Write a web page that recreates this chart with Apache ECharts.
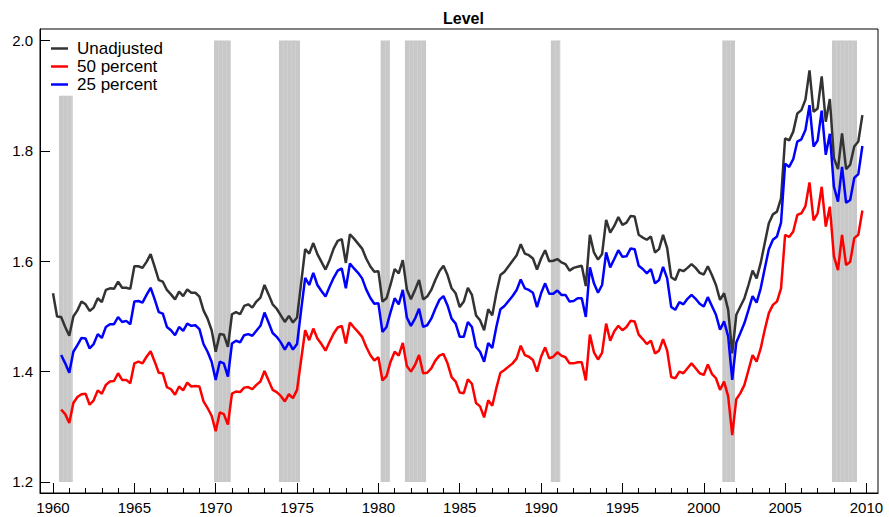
<!DOCTYPE html>
<html>
<head>
<meta charset="utf-8">
<title>Level</title>
<script src="https://cdn.jsdelivr.net/npm/echarts@6/dist/echarts.min.js"></script>
<style>
    html, body { margin: 0; padding: 0; background: #fff; }
    #chart { width: 889px; height: 517px; }
</style>
</head>
<body>
<div id="chart"></div>
<script>
// quarterly series, 1960Q1 - 2009Q4
var unadjusted = [
    1.542,1.500,1.499,1.481,1.465,1.500,1.511,1.527,1.522,1.510,
    1.516,1.533,1.526,1.548,1.551,1.550,1.563,1.552,1.552,1.550,
    1.591,1.591,1.588,1.599,1.613,1.590,1.566,1.563,1.548,1.540,
    1.531,1.545,1.537,1.549,1.543,1.543,1.536,1.511,1.496,1.475,
    1.436,1.468,1.467,1.445,1.504,1.508,1.504,1.519,1.522,1.516,
    1.527,1.534,1.557,1.540,1.522,1.514,1.502,1.490,1.501,1.489,
    1.498,1.560,1.622,1.614,1.633,1.613,1.599,1.585,1.602,1.623,
    1.637,1.640,1.597,1.649,1.641,1.632,1.623,1.605,1.591,1.581,
    1.582,1.527,1.533,1.558,1.586,1.578,1.602,1.549,1.531,1.548,
    1.566,1.531,1.536,1.548,1.566,1.582,1.592,1.575,1.551,1.542,
    1.517,1.527,1.552,1.539,1.502,1.493,1.475,1.513,1.502,1.542,
    1.575,1.581,1.591,1.601,1.611,1.631,1.614,1.611,1.605,1.585,
    1.605,1.620,1.600,1.601,1.604,1.598,1.595,1.583,1.588,1.590,
    1.592,1.555,1.648,1.616,1.603,1.613,1.675,1.652,1.664,1.680,
    1.666,1.670,1.682,1.681,1.648,1.643,1.639,1.645,1.616,1.622,
    1.648,1.624,1.571,1.566,1.585,1.582,1.588,1.595,1.588,1.579,
    1.576,1.591,1.575,1.557,1.530,1.542,1.512,1.433,1.503,1.518,
    1.533,1.557,1.583,1.569,1.597,1.633,1.669,1.685,1.690,1.714,
    1.823,1.819,1.835,1.868,1.874,1.893,1.946,1.871,1.877,1.935,
    1.853,1.894,1.787,1.767,1.832,1.767,1.775,1.808,1.817,1.865
];
var pct50 = [
    null,null,1.331,1.323,1.307,1.343,1.354,1.359,1.360,1.340,
    1.348,1.366,1.360,1.376,1.382,1.383,1.397,1.385,1.385,1.379,
    1.415,1.418,1.415,1.427,1.437,1.418,1.398,1.397,1.372,1.368,
    1.358,1.373,1.366,1.380,1.373,1.374,1.373,1.346,1.334,1.320,
    1.292,1.326,1.323,1.304,1.360,1.364,1.363,1.371,1.372,1.368,
    1.376,1.382,1.401,1.384,1.367,1.363,1.356,1.346,1.359,1.352,
    1.367,1.421,1.475,1.457,1.478,1.460,1.450,1.438,1.454,1.469,
    1.480,1.483,1.451,1.489,1.480,1.472,1.463,1.445,1.430,1.420,
    1.426,1.384,1.392,1.418,1.436,1.429,1.452,1.410,1.400,1.412,
    1.430,1.397,1.398,1.406,1.420,1.429,1.432,1.415,1.390,1.382,
    1.362,1.361,1.386,1.378,1.343,1.337,1.317,1.348,1.338,1.370,
    1.398,1.403,1.409,1.415,1.424,1.447,1.430,1.427,1.421,1.400,
    1.427,1.444,1.424,1.427,1.435,1.429,1.426,1.415,1.415,1.417,
    1.417,1.384,1.467,1.435,1.422,1.434,1.487,1.456,1.473,1.483,
    1.475,1.481,1.492,1.491,1.467,1.459,1.450,1.456,1.433,1.438,
    1.459,1.438,1.390,1.388,1.400,1.397,1.406,1.415,1.406,1.397,
    1.394,1.413,1.396,1.388,1.367,1.382,1.355,1.285,1.350,1.361,
    1.376,1.403,1.430,1.418,1.442,1.476,1.506,1.521,1.527,1.551,
    1.648,1.644,1.654,1.684,1.687,1.700,1.743,1.674,1.687,1.735,
    1.663,1.699,1.609,1.584,1.648,1.593,1.599,1.642,1.648,1.692
];
var pct25 = [
    null,null,1.430,1.415,1.398,1.436,1.448,1.461,1.460,1.442,
    1.450,1.468,1.461,1.481,1.486,1.486,1.499,1.490,1.492,1.486,
    1.527,1.528,1.525,1.539,1.552,1.531,1.508,1.505,1.481,1.475,
    1.466,1.481,1.474,1.487,1.483,1.484,1.477,1.450,1.436,1.418,
    1.385,1.418,1.415,1.391,1.451,1.456,1.453,1.466,1.468,1.465,
    1.474,1.483,1.507,1.489,1.470,1.463,1.453,1.440,1.453,1.440,
    1.450,1.511,1.570,1.557,1.579,1.557,1.546,1.536,1.554,1.570,
    1.583,1.587,1.551,1.596,1.587,1.579,1.569,1.549,1.534,1.523,
    1.524,1.472,1.481,1.508,1.533,1.522,1.548,1.498,1.483,1.496,
    1.514,1.481,1.484,1.496,1.514,1.530,1.537,1.520,1.496,1.487,
    1.463,1.463,1.490,1.481,1.445,1.436,1.418,1.452,1.443,1.481,
    1.513,1.519,1.528,1.537,1.548,1.567,1.551,1.548,1.543,1.517,
    1.542,1.560,1.541,1.541,1.547,1.539,1.539,1.527,1.528,1.533,
    1.533,1.499,1.589,1.560,1.543,1.557,1.616,1.589,1.604,1.620,
    1.608,1.609,1.623,1.622,1.592,1.586,1.578,1.586,1.560,1.566,
    1.590,1.569,1.517,1.512,1.526,1.522,1.532,1.539,1.532,1.523,
    1.518,1.535,1.519,1.503,1.476,1.491,1.464,1.385,1.453,1.470,
    1.488,1.512,1.537,1.525,1.551,1.587,1.622,1.639,1.645,1.670,
    1.777,1.771,1.785,1.817,1.821,1.838,1.883,1.808,1.819,1.873,
    1.793,1.831,1.735,1.708,1.771,1.706,1.711,1.751,1.758,1.809
];

// recession bands (start, end in fractional years; top of band)
var recStart = [1960.37, 1969.90, 1973.89, 1980.14, 1981.63, 1990.60, 2001.14, 2007.88];
var recEnd   = [1961.21, 1970.92, 1975.18, 1980.71, 1982.93, 1991.18, 2001.92, 2009.42];
var recTop   = [1.9, 2.0, 2.0, 2.0, 2.0, 2.0, 2.0, 2.0];

var yTicks = [1.2, 1.4, 1.6, 1.8, 2.0];
var xMajor = [1960, 1965, 1970, 1975, 1980, 1985, 1990, 1995, 2000, 2005, 2010];

// quarter dates: 1960.00, 1960.25, ...
var quarters = [];
for (var i = 0; i < unadjusted.length; i++) {
    quarters.push(1960 + i / 4);
}
var xMinor = [];
for (var yr = 1960; yr <= 2010; yr++) {
    if (yr % 5 != 0) xMinor.push(yr);
}

function pairs(vals) {
    var out = [];
    for (var i = 0; i < vals.length; i++) {
        out.push([quarters[i], vals[i]]);
    }
    return out;
}

var recData = [];
for (var r = 0; r < recStart.length; r++) {
    recData.push([recStart[r], recEnd[r], recTop[r]]);
}

var font = 'Liberation Sans, Arial, sans-serif';
var xMin = 1959.2, xMax = 2010.71;

var chart = echarts.init(document.getElementById('chart'), null, {renderer: 'svg'});
chart.setOption({
    animation: false,
    backgroundColor: '#fff',
    title: {
        text: 'Level',
        left: 438,
        top: 5,
        textStyle: { fontFamily: font, fontSize: 16, fontWeight: 'bold', color: '#000' }
    },
    legend: {
        data: ['Unadjusted', '50 percent', '25 percent'],
        orient: 'vertical',
        left: 51,
        top: 40,
        padding: 0,
        itemGap: 1,
        icon: 'rect',
        itemWidth: 17,
        itemHeight: 2.5,
        textStyle: { fontFamily: font, fontSize: 17, color: '#000', padding: [0, 0, 0, 4] }
    },
    grid: {
        left: 40, right: 11, top: 29, bottom: 24,
        show: true, borderColor: '#000', borderWidth: 1,
        containLabel: false
    },
    xAxis: [{
        type: 'value', min: xMin, max: xMax,
        splitLine: { show: false },
        axisLine: { lineStyle: { color: '#000', width: 1 } },
        axisTick: { customValues: xMajor, inside: true, length: 10, lineStyle: { color: '#000' } },
        axisLabel: {
            customValues: xMajor, margin: 7, fontFamily: font, fontSize: 15, color: '#000',
            formatter: function (v) { return String(Math.round(v)); }
        }
    }, {
        type: 'value', min: xMin, max: xMax, position: 'bottom',
        splitLine: { show: false },
        axisLine: { show: false },
        axisTick: { customValues: xMinor, inside: true, length: 5, lineStyle: { color: '#000' } },
        axisLabel: { show: false }
    }],
    yAxis: {
        type: 'value', min: 1.18, max: 2.021,
        splitLine: { show: false },
        axisLine: { show: true, lineStyle: { color: '#000', width: 1 } },
        axisTick: { customValues: yTicks, inside: true, length: 10, lineStyle: { color: '#000' } },
        axisLabel: {
            customValues: yTicks, margin: 7, fontFamily: font, fontSize: 15, color: '#000',
            formatter: function (v) { return v.toFixed(1); }
        }
    },
    series: [{
        type: 'custom',
        name: 'recessions',
        xAxisIndex: 0,
        z: 1,
        silent: true,
        data: recData,
        encode: { x: [0, 1], y: 2 },
        renderItem: function (params, api) {
            var s = api.value(0), e = api.value(1), top = api.value(2);
            var p0 = api.coord([s, top]);
            var p1 = api.coord([e, 1.2]);
            var kids = [{
                type: 'rect',
                shape: { x: p0[0], y: p0[1], width: p1[0] - p0[0], height: p1[1] - p0[1] },
                style: { fill: '#c8c8c8' }
            }];
            for (var q = s + 0.25; q < e - 0.06; q += 0.25) {
                var px = Math.round(api.coord([q, 1.2])[0]) + 0.5;
                kids.push({
                    type: 'line',
                    shape: { x1: px, y1: p0[1], x2: px, y2: p1[1] },
                    style: { stroke: '#d0d0d0', lineWidth: 1 }
                });
            }
            return { type: 'group', children: kids };
        }
    }, {
        name: 'Unadjusted', type: 'line', xAxisIndex: 0, z: 3,
        data: pairs(unadjusted), showSymbol: false,
        itemStyle: { color: '#333333' },
        lineStyle: { color: '#333333', width: 2.5 }
    }, {
        name: '50 percent', type: 'line', xAxisIndex: 0, z: 3,
        data: pairs(pct50), showSymbol: false,
        itemStyle: { color: '#ff0000' },
        lineStyle: { color: '#ff0000', width: 2.5 }
    }, {
        name: '25 percent', type: 'line', xAxisIndex: 0, z: 3,
        data: pairs(pct25), showSymbol: false,
        itemStyle: { color: '#0000ff' },
        lineStyle: { color: '#0000ff', width: 2.5 }
    }]
});
</script>
</body>
</html>
